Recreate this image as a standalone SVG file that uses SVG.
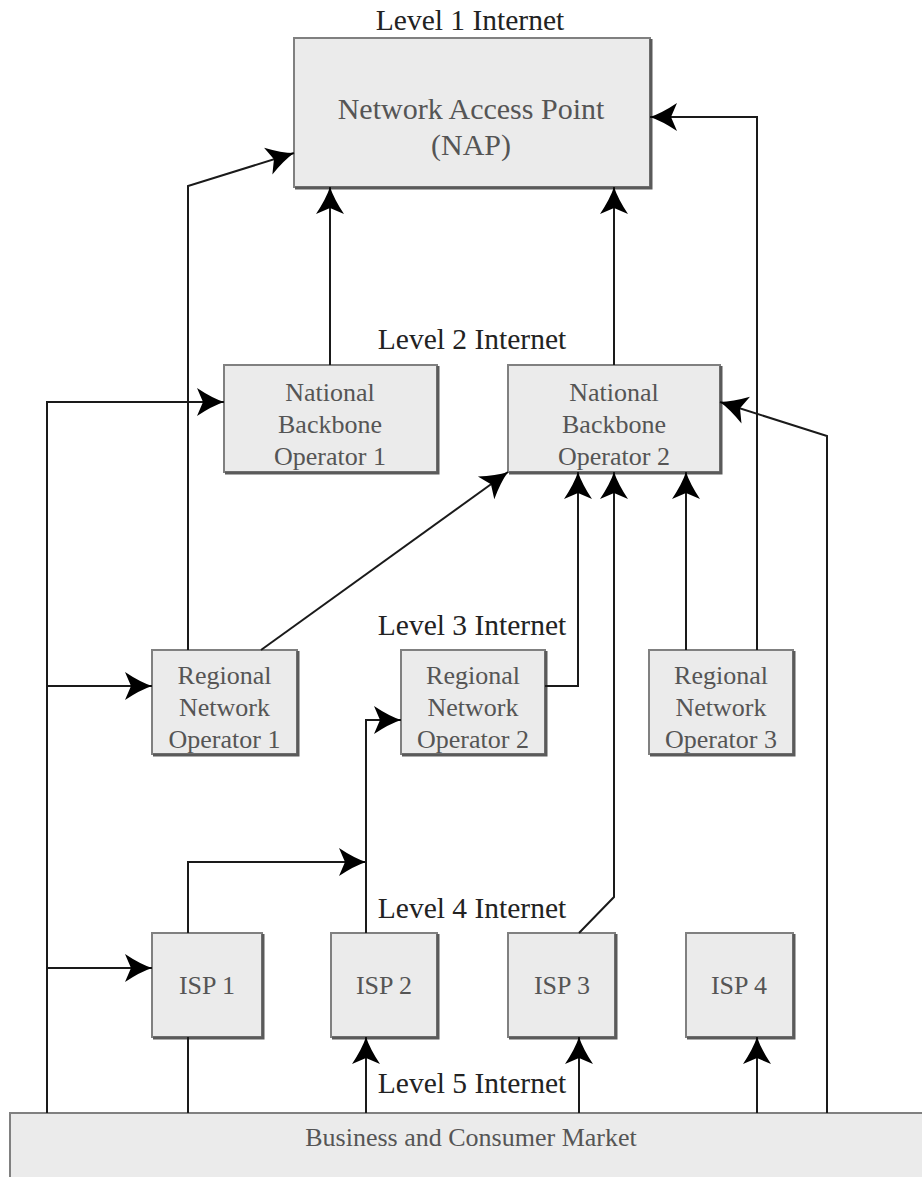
<svg xmlns="http://www.w3.org/2000/svg" width="922" height="1177" viewBox="0 0 922 1177">
<style>
.box{fill:#ebebeb;stroke:#808080;stroke-width:2}
.sh{fill:none;stroke:#5a5a5a;stroke-width:3}
.t{font-family:"Liberation Serif","Times New Roman",serif;fill:#555;text-anchor:middle;font-size:26px}
.big{font-size:30px}
.lvl{font-family:"Liberation Serif","Times New Roman",serif;fill:#222;text-anchor:middle;font-size:29.5px}
.c{fill:none;stroke:#1a1a1a;stroke-width:2}
.a{marker-end:url(#ah)}
</style>
<defs>
<marker id="ah" markerUnits="userSpaceOnUse" markerWidth="30" markerHeight="30" refX="28" refY="15" orient="auto" overflow="visible">
<path d="M28,15 Q16,11 1,1 L7,15 L1,29 Q16,19 28,15 Z" fill="#000"/>
</marker>
</defs>
<rect width="922" height="1177" fill="#fff"/>

<text class="lvl" x="470" y="30">Level 1 Internet</text>
<text class="lvl" x="472" y="349">Level 2 Internet</text>
<text class="lvl" x="472" y="635">Level 3 Internet</text>
<text class="lvl" x="472" y="918">Level 4 Internet</text>
<text class="lvl" x="472" y="1093">Level 5 Internet</text>

<g id="nap">
<rect class="box" x="294" y="38" width="356" height="149"/>
<path class="sh" d="M295,188 H651 V39"/>
<text class="t big" x="471" y="119">Network Access Point</text>
<text class="t big" x="471" y="155">(NAP)</text>
</g>
<g id="nbo1">
<rect class="box" x="224" y="365" width="213" height="107"/>
<path class="sh" d="M225,473 H438 V366"/>
<text class="t" x="330" y="401">National</text>
<text class="t" x="330" y="433">Backbone</text>
<text class="t" x="330" y="465">Operator 1</text>
</g>
<g id="nbo2">
<rect class="box" x="508" y="365" width="212" height="107"/>
<path class="sh" d="M509,473 H721 V366"/>
<text class="t" x="614" y="401">National</text>
<text class="t" x="614" y="433">Backbone</text>
<text class="t" x="614" y="465">Operator 2</text>
</g>
<g id="rno1">
<rect class="box" x="152" y="650" width="145" height="104"/>
<path class="sh" d="M153,755 H298 V651"/>
<text class="t" x="224.5" y="684">Regional</text>
<text class="t" x="224.5" y="716">Network</text>
<text class="t" x="224.5" y="748">Operator 1</text>
</g>
<g id="rno2">
<rect class="box" x="401" y="650" width="144" height="104"/>
<path class="sh" d="M402,755 H546 V651"/>
<text class="t" x="473" y="684">Regional</text>
<text class="t" x="473" y="716">Network</text>
<text class="t" x="473" y="748">Operator 2</text>
</g>
<g id="rno3">
<rect class="box" x="649" y="650" width="144" height="104"/>
<path class="sh" d="M650,755 H794 V651"/>
<text class="t" x="721" y="684">Regional</text>
<text class="t" x="721" y="716">Network</text>
<text class="t" x="721" y="748">Operator 3</text>
</g>
<g id="isp1">
<rect class="box" x="152" y="933" width="110" height="104"/>
<path class="sh" d="M153,1038 H263 V934"/>
<text class="t" x="207" y="994">ISP 1</text>
</g>
<g id="isp2">
<rect class="box" x="331" y="933" width="106" height="104"/>
<path class="sh" d="M332,1038 H438 V934"/>
<text class="t" x="384" y="994">ISP 2</text>
</g>
<g id="isp3">
<rect class="box" x="508" y="933" width="107" height="104"/>
<path class="sh" d="M509,1038 H616 V934"/>
<text class="t" x="562" y="994">ISP 3</text>
</g>
<g id="isp4">
<rect class="box" x="686" y="933" width="107" height="104"/>
<path class="sh" d="M687,1038 H794 V934"/>
<text class="t" x="739" y="994">ISP 4</text>
</g>
<g id="market">
<rect class="box" x="10" y="1113" width="930" height="100"/>
<text class="t" x="471" y="1146">Business and Consumer Market</text>
</g>

<g id="connectors">
<path class="c a" d="M47,1113 V402 H224"/>
<path class="c a" d="M47,686 H152"/>
<path class="c a" d="M47,968 H152"/>
<path class="c a" d="M188,650 V186 L294,153"/>
<path class="c a" d="M330,365 V187"/>
<path class="c a" d="M614,365 V187"/>
<path class="c a" d="M757,650 V117 H650"/>
<path class="c a" d="M827,1113 V436 L720,402"/>
<path class="c a" d="M686,650 V472"/>
<path class="c a" d="M261,650 L508,472"/>
<path class="c a" d="M545,686 H578 V472"/>
<path class="c a" d="M579,933 L614,897 V472"/>
<path class="c a" d="M188,933 V862 H366"/>
<path class="c a" d="M366,933 V720 H401"/>
<path class="c" d="M188,1037 V1113"/>
<path class="c a" d="M366,1113 V1037"/>
<path class="c a" d="M579,1113 V1037"/>
<path class="c a" d="M757,1113 V1037"/>
</g>
</svg>
